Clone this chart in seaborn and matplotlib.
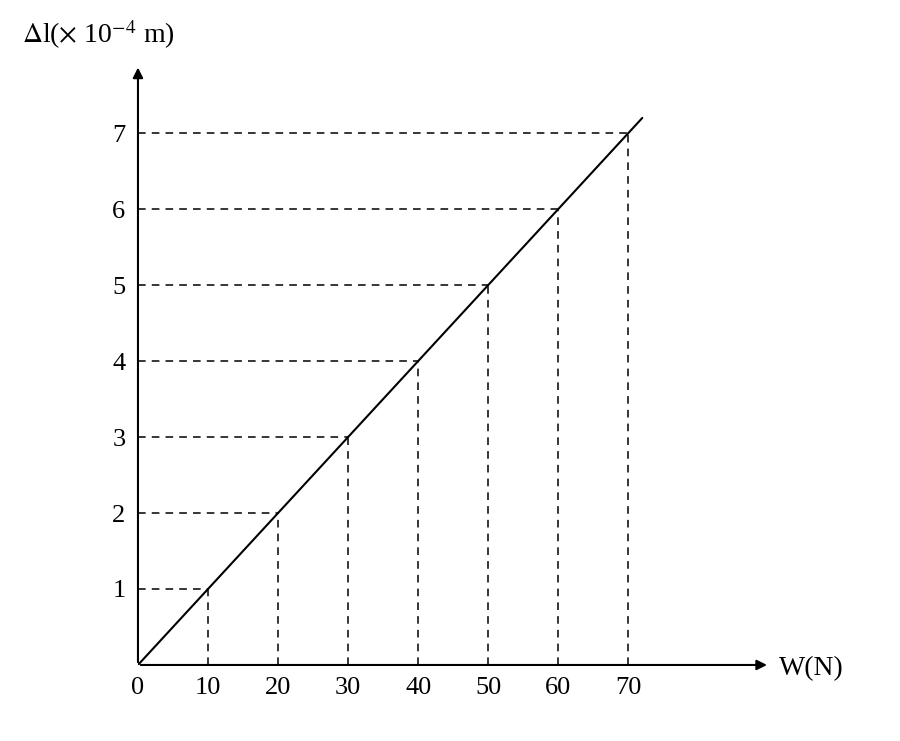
import matplotlib
matplotlib.use("Agg")
import matplotlib.pyplot as plt
import seaborn as sns

sns.set_theme(style="white")
plt.rcParams['font.family'] = ['Liberation Serif', 'DejaVu Serif']
plt.rcParams['mathtext.fontset'] = 'stix'
plt.rcParams['text.color'] = 'black'
plt.rcParams['xtick.color'] = 'black'
plt.rcParams['ytick.color'] = 'black'

W = [10, 20, 30, 40, 50, 60, 70]
dl = [1, 2, 3, 4, 5, 6, 7]
line_x = [0, 72]
line_y = [0, 7.2]
xticks = [0, 10, 20, 30, 40, 50, 60, 70]
yticks = [1, 2, 3, 4, 5, 6, 7]

fig = plt.figure(figsize=(9, 7.41), dpi=100)
ax = fig.add_axes([0.1533, 0.1026, 0.702, 0.81])
sns.lineplot(x=line_x, y=line_y, ax=ax, color='black', lw=1.5)
for x, y in zip(W, dl):
    ax.plot([0, x], [y, y], ls=(0, (5, 4)), color='black', lw=1.1)
    ax.plot([x, x], [0, y], ls=(0, (5, 4)), color='black', lw=1.1)
ax.set_xlim(0, 90.2)
ax.set_ylim(0, 7.9)
for s in ax.spines.values():
    s.set_visible(False)
ax.annotate('', xy=(90.2, 0), xytext=(0, 0), xycoords='data',
            arrowprops=dict(arrowstyle='-|>', color='black', lw=1.5, mutation_scale=15), annotation_clip=False)
ax.annotate('', xy=(0, 7.9), xytext=(0, 0), xycoords='data',
            arrowprops=dict(arrowstyle='-|>', color='black', lw=1.5, mutation_scale=15), annotation_clip=False)
ax.set_xticks(xticks)
ax.set_xticklabels([str(t) for t in xticks], fontsize=19)
ax.set_yticks(yticks)
ax.set_yticklabels([str(t) for t in yticks], fontsize=19)
ax.tick_params(length=0, pad=9)
ax.text(91.5, -0.05, 'W(N)', fontsize=20, va='center', ha='left')
ax.text(-16.5, 8.3, r'$\Delta$l($\times$ 10$^{-4}$ m)', fontsize=20, va='center', ha='left')
fig.savefig('out.png', dpi=100)
